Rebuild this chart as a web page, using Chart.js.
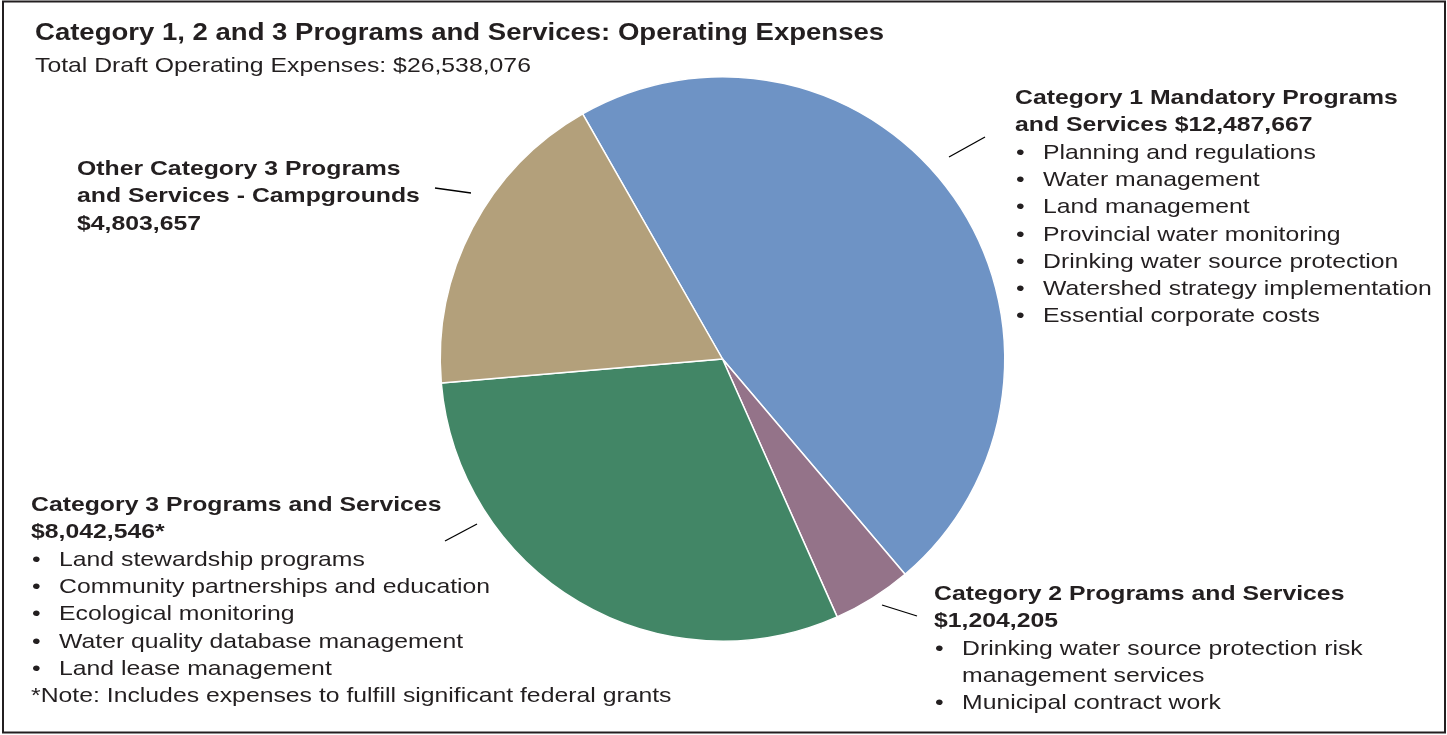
<!DOCTYPE html>
<html lang="en">
<head>
    <meta charset="UTF-8">
    <title>Category 1, 2 and 3 Programs and Services: Operating Expenses</title>
    <script src="https://cdn.jsdelivr.net/npm/chart.js"></script>
    <style>
        body { margin: 0; background: #fff; }
        canvas { display: block; }
    </style>
</head>
<body>
    <canvas id="expensesChart" width="1447" height="735"></canvas>

    <script>
        // Operating expense categories (in pie order, clockwise)
        const categories = [
            'Category 1 Mandatory Programs and Services',
            'Category 2 Programs and Services',
            'Category 3 Programs and Services',
            'Other Category 3 Programs and Services - Campgrounds'
        ];
        const expenses = [12487667, 1204205, 8042546, 4803657];
        const sliceColors = ['#6e93c5', '#947389', '#428666', '#b3a07b'];

        const chartTitle = 'Category 1, 2 and 3 Programs and Services: Operating Expenses';
        const totalExpenses = 26538076;

        const fmt = v => '$' + v.toLocaleString('en-US');

        // Text blocks beside each slice
        const cat1Items = ['Planning and regulations', 'Water management', 'Land management',
            'Provincial water monitoring', 'Drinking water source protection',
            'Watershed strategy implementation', 'Essential corporate costs'];
        const cat2Items = [['Drinking water source protection risk', 'management services'],
            ['Municipal contract work']];
        const cat3Items = ['Land stewardship programs', 'Community partnerships and education',
            'Ecological monitoring', 'Water quality database management', 'Land lease management'];
        const cat3Note = '*Note: Includes expenses to fulfill significant federal grants';

        const FONT = '"Liberation Sans", Arial, sans-serif';
        const LINE = 27.3;
        const STRETCH = 1.18;   // the labels use a slightly wide face

        function text(ctx, str, x, y, sx) {
            ctx.save();
            ctx.translate(x, y);
            ctx.scale(sx || STRETCH, 1);
            ctx.fillText(str, 0, 0);
            ctx.restore();
        }

        function drawBlock(ctx, x, y, heads, bullets, note) {
            ctx.fillStyle = '#231f20';
            ctx.font = 'bold 21px ' + FONT;
            heads.forEach(h => { text(ctx, h, x, y); y += LINE; });
            ctx.font = '21px ' + FONT;
            bullets.forEach(b => {
                const lines = Array.isArray(b) ? b : [b];
                text(ctx, '•', x + 1, y);
                lines.forEach(l => { text(ctx, l, x + 28, y); y += LINE; });
            });
            if (note) text(ctx, note, x, y);
        }

        function leader(ctx, x1, y1, x2, y2) {
            ctx.beginPath();
            ctx.moveTo(x1, y1);
            ctx.lineTo(x2, y2);
            ctx.stroke();
        }

        const annotations = {
            id: 'annotations',
            afterDraw(chart) {
                const ctx = chart.ctx;
                ctx.save();
                // outer frame
                ctx.strokeStyle = '#231f20';
                ctx.lineWidth = 2;
                ctx.strokeRect(3, 1.5, 1442, 731);

                ctx.textBaseline = 'alphabetic';
                ctx.fillStyle = '#231f20';
                ctx.font = 'bold 24px ' + FONT;
                text(ctx, chartTitle, 35, 40, 1.147);
                ctx.font = '21px ' + FONT;
                text(ctx, 'Total Draft Operating Expenses: ' + fmt(totalExpenses), 35, 72);

                drawBlock(ctx, 1015, 104,
                    ['Category 1 Mandatory Programs', 'and Services ' + fmt(expenses[0])], cat1Items);
                drawBlock(ctx, 934, 600,
                    ['Category 2 Programs and Services', fmt(expenses[1])], cat2Items);
                drawBlock(ctx, 31, 511,
                    ['Category 3 Programs and Services', fmt(expenses[2]) + '*'], cat3Items, cat3Note);
                drawBlock(ctx, 77, 175,
                    ['Other Category 3 Programs', 'and Services - Campgrounds', fmt(expenses[3])], []);

                ctx.strokeStyle = '#000';
                ctx.lineWidth = 1.3;
                leader(ctx, 949, 157, 985, 137);
                leader(ctx, 882, 605, 917, 616);
                leader(ctx, 445, 541, 477, 524);
                leader(ctx, 435, 188, 471, 193);
                ctx.restore();
            }
        };

        new Chart(document.getElementById('expensesChart'), {
            type: 'pie',
            data: {
                labels: categories,
                datasets: [{
                    data: expenses,
                    backgroundColor: sliceColors,
                    borderColor: '#ffffff',
                    borderWidth: 1.5
                }]
            },
            options: {
                responsive: false,
                animation: false,
                devicePixelRatio: 1,
                rotation: -29.7,
                layout: { padding: { top: 76, bottom: 93, left: 0, right: 2 } },
                plugins: {
                    legend: { display: false },
                    tooltip: { enabled: false }
                }
            },
            plugins: [annotations]
        });
    </script>
</body>
</html>
